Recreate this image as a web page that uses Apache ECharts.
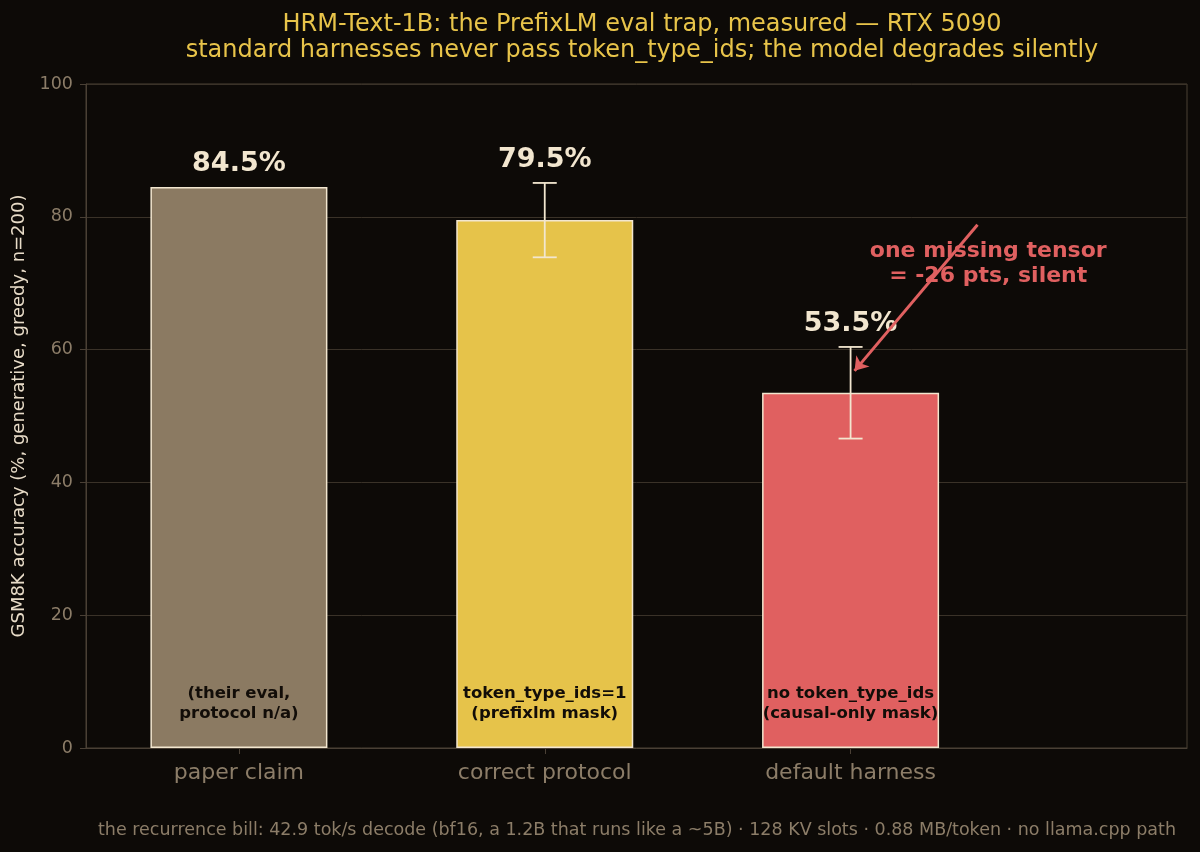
<!DOCTYPE html>
<html>
<head>
<meta charset="utf-8">
<script src="https://cdn.jsdelivr.net/npm/echarts@6/dist/echarts.min.js"></script>
<style>
html,body{margin:0;padding:0;background:#0d0a07;}
#chart{width:1200px;height:852px;}
</style>
</head>
<body>
<div id="chart"></div>
<script>
const categories = ['paper claim', 'correct protocol', 'default harness'];
const values = [84.5, 79.5, 53.5];
const errLow = [null, 73.9, 46.6];
const errHigh = [null, 85.1, 60.4];
const valueLabels = ['84.5%', '79.5%', '53.5%'];
const innerLabels = ['(their eval,\nprotocol n/a)', 'token_type_ids=1\n(prefixlm mask)', 'no token_type_ids\n(causal-only mask)'];
const barColors = ['#8b7a62', '#e6c34a', '#e06060'];
const yTicks = [0, 20, 40, 60, 80, 100];
const annotationText = 'one missing tensor\n= -26 pts, silent';
const arrowFrom = [2.415, 78.8];
const arrowTo = [2.013, 56.8];
const annotationAt = [2.45, 72.9];
const titleText = 'HRM-Text-1B: the PrefixLM eval trap, measured \u2014 RTX 5090\nstandard harnesses never pass token_type_ids; the model degrades silently';
const footerText = 'the recurrence bill: 42.9 tok/s decode (bf16, a 1.2B that runs like a ~5B) \u00b7 128 KV slots \u00b7 0.88 MB/token \u00b7 no llama.cpp path';

const FONT = '"DejaVu Sans", sans-serif';
const CREAM = '#f2e6cf';
const MUTED = '#8c7d68';
const RED = '#e06060';

const chart = echarts.init(document.getElementById('chart'));

const barData = values.map((v, i) => ({
  value: [i, v],
  itemStyle: { color: barColors[i], borderColor: CREAM, borderWidth: 1.5 },
  label: { formatter: innerLabels[i] }
}));

const errData = values.map((v, i) => [i, v]);

const option = {
  backgroundColor: '#0d0a07',
  animation: false,
  title: [{
    text: titleText,
    left: 637,
    top: 7,
    textAlign: 'center',
    textStyle: { color: '#e8c44a', fontFamily: FONT, fontSize: 24, fontWeight: 'normal', lineHeight: 26 }
  }],
  graphic: [{
    type: 'text',
    right: 24,
    top: 821,
    style: { text: footerText, fill: MUTED, font: '17.5px ' + FONT }
  }],
  grid: {
    left: 86, right: 13, top: 84, bottom: 104,
    show: true, borderColor: '#4a4035', borderWidth: 1, backgroundColor: '#0d0a07'
  },
  xAxis: {
    type: 'value',
    min: -0.5,
    max: 3.1,
    splitLine: { show: false },
    minorSplitLine: { show: false },
    axisLine: { show: true, onZero: false, lineStyle: { color: '#4a4035' } },
    axisTick: { show: true, customValues: [0, 1, 2], length: 6, lineStyle: { color: '#4a4035' } },
    axisLabel: {
      customValues: [0, 1, 2],
      formatter: v => categories[Math.round(v)] || '',
      color: MUTED, fontFamily: FONT, fontSize: 22, margin: 14
    }
  },
  yAxis: {
    type: 'value',
    min: 0,
    max: 100,
    interval: 20,
    name: 'GSM8K accuracy (%, generative, greedy, n=200)',
    nameLocation: 'middle',
    nameGap: 58,
    nameTextStyle: { color: '#e8dcc8', fontFamily: FONT, fontSize: 18 },
    axisLine: { show: true, onZero: false, lineStyle: { color: '#4a4035' } },
    axisTick: { show: true, length: 6, lineStyle: { color: '#4a4035' } },
    axisLabel: {
      color: MUTED, fontFamily: FONT, fontSize: 17.5, margin: 13,
      formatter: v => (yTicks.indexOf(v) >= 0 ? String(v) : '')
    },
    splitLine: { show: true, lineStyle: { color: '#3a3228', width: 1 } }
  },
  series: [
    {
      type: 'bar',
      data: barData,
      barWidth: 177,
      z: 2,
      label: {
        show: true,
        position: 'insideBottom',
        distance: 24,
        color: '#120d08',
        fontFamily: FONT,
        fontSize: 16.5,
        fontWeight: 'bold',
        lineHeight: 20,
        align: 'center'
      }
    },
    {
      type: 'custom',
      data: errData,
      z: 5,
      renderItem: function (params, api) {
        const k = params.dataIndex;
        const i = api.value(0);
        const v = api.value(1);
        const lo = errLow[k];
        const hi = errHigh[k];
        const children = [];
        const style = { stroke: CREAM, lineWidth: 1.8 };
        const c = api.coord([i, v]);
        let topY = c[1];
        if (lo !== null && hi !== null) {
          const p1 = api.coord([i, lo]);
          const p2 = api.coord([i, hi]);
          const cap = 12;
          children.push({ type: 'line', shape: { x1: p1[0], y1: p1[1], x2: p2[0], y2: p2[1] }, style: style });
          children.push({ type: 'line', shape: { x1: p1[0] - cap, y1: p1[1], x2: p1[0] + cap, y2: p1[1] }, style: style });
          children.push({ type: 'line', shape: { x1: p2[0] - cap, y1: p2[1], x2: p2[0] + cap, y2: p2[1] }, style: style });
          topY = Math.min(topY, p2[1]);
        }
        children.push({
          type: 'text',
          style: {
            text: valueLabels[k],
            x: c[0], y: topY - 23,
            align: 'center', verticalAlign: 'middle',
            fill: CREAM, font: 'bold 27px ' + FONT
          }
        });
        return { type: 'group', children: children };
      }
    },
    {
      type: 'scatter',
      data: [annotationAt],
      symbolSize: 0,
      z: 6,
      itemStyle: { opacity: 1, color: RED },
      label: {
        show: true,
        position: 'inside',
        formatter: annotationText,
        color: RED,
        opacity: 1,
        fontFamily: FONT,
        fontSize: 22,
        fontWeight: 'bold',
        lineHeight: 25,
        align: 'center'
      },
      markLine: {
        silent: true,
        z: 7,
        symbol: ['none', 'arrow'],
        symbolSize: 13,
        label: { show: false },
        lineStyle: { color: RED, width: 3, type: 'solid', opacity: 1 },
        data: [[{ coord: arrowFrom }, { coord: arrowTo }]]
      }
    }
  ]
};

chart.setOption(option);
</script>
</body>
</html>
